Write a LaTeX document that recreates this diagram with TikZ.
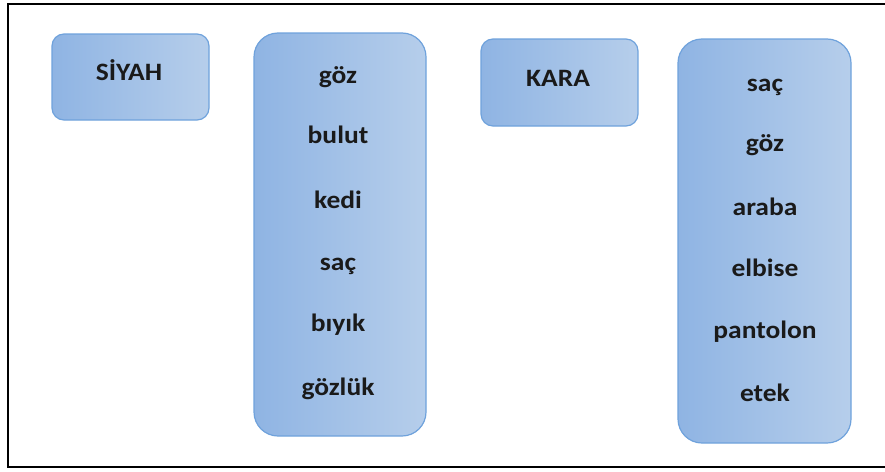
\documentclass[tikz,border=0pt]{standalone}
\usepackage{fontspec}
\setmainfont{Carlito}
\definecolor{boxL}{HTML}{8FB4E3}
\definecolor{boxR}{HTML}{B6CEEB}
\definecolor{boxB}{HTML}{6FA2DC}
\definecolor{txt}{HTML}{1A1A1A}
\newcommand{\stretchw}[1]{\scalebox{1.1}[1]{#1}}
\begin{document}
\begin{tikzpicture}[x=1pt,y=-1pt,
  card/.style={draw=boxB, line width=1.2pt, left color=boxL, right color=boxR, inner sep=0pt},
  word/.style={font=\fontsize{25}{27}\selectfont\bfseries, text=txt, inner sep=0pt}]
\useasboundingbox (0,0) rectangle (885,471);
\fill[white] (0,0) rectangle (885,471);
\draw[line width=2pt] (885,4) -- (8,4) -- (8,467) -- (885,467);
\node[card, rounded corners=12pt, minimum width=157pt, minimum height=86pt] (siyah) at (130.5,77) {};
\node[word, anchor=base] (siyahT) at (129,80) {\stretchw{SİYAH}};
\node[card, rounded corners=24pt, minimum width=172pt, minimum height=403pt] (listA) at (340,234.5) {};
\node[card, rounded corners=12pt, minimum width=157pt, minimum height=87pt] (kara) at (559.5,82.5) {};
\node[word, anchor=base] (karaT) at (558,86) {\stretchw{KARA}};
\node[card, rounded corners=24pt, minimum width=173pt, minimum height=404pt] (listB) at (764.5,241) {};
\foreach \t/\y [count=\i] in {göz/75,bulut/135,kedi/200,saç/262,bıyık/323,gözlük/387}
  \node[word, anchor=base] (a\i) at (338,\y+8) {\stretchw{\t}};
\foreach \t/\y [count=\i] in {saç/83,göz/143,araba/207,elbise/268,pantolon/330,etek/393}
  \node[word, anchor=base] (b\i) at (765,\y+8) {\stretchw{\t}};
\end{tikzpicture}
\end{document}
